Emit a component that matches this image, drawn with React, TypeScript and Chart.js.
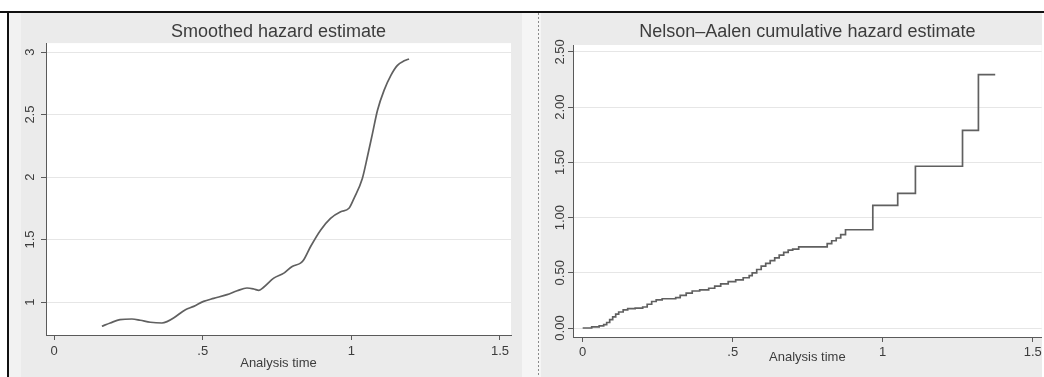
import React, { useEffect, useRef } from "react";
import { Chart, registerables } from "chart.js";

Chart.register(...registerables);

// ---- data ----
const xTicks = [0, 0.5, 1, 1.5];
const xTickLabels = ["0", ".5", "1", "1.5"];

const hazardTime = [0.161, 0.189, 0.222, 0.262, 0.29, 0.324, 0.363, 0.38, 0.402, 0.442, 0.47, 0.503, 0.537, 0.582, 0.616, 0.649, 0.672, 0.689, 0.706, 0.739, 0.773, 0.801, 0.829, 0.84, 0.863, 0.897, 0.93, 0.964, 0.992, 1.009, 1.037, 1.054, 1.071, 1.088, 1.11, 1.133, 1.155, 1.178, 1.194];
const hazardValue = [0.806, 0.832, 0.859, 0.864, 0.854, 0.838, 0.832, 0.843, 0.872, 0.939, 0.965, 1.005, 1.029, 1.059, 1.09, 1.112, 1.104, 1.093, 1.12, 1.191, 1.231, 1.285, 1.311, 1.338, 1.444, 1.577, 1.67, 1.723, 1.75, 1.83, 1.989, 2.162, 2.348, 2.535, 2.694, 2.814, 2.894, 2.93, 2.945];
const hazardYTicks = [1, 1.5, 2, 2.5, 3];
const hazardYTickLabels = ["1", "1.5", "2", "2.5", "3"];

const naTime = [0, 0.03, 0.055, 0.07, 0.08, 0.09, 0.1, 0.11, 0.12, 0.135, 0.15, 0.175, 0.2, 0.215, 0.23, 0.245, 0.265, 0.31, 0.325, 0.345, 0.365, 0.39, 0.42, 0.44, 0.46, 0.485, 0.51, 0.535, 0.555, 0.565, 0.58, 0.595, 0.61, 0.625, 0.64, 0.655, 0.67, 0.685, 0.7, 0.72, 0.815, 0.83, 0.845, 0.86, 0.876, 0.967, 1.05, 1.109, 1.266, 1.319, 1.375];
const naValue = [0, 0.01, 0.02, 0.03, 0.05, 0.075, 0.1, 0.125, 0.145, 0.165, 0.175, 0.18, 0.19, 0.215, 0.24, 0.255, 0.265, 0.275, 0.295, 0.315, 0.335, 0.345, 0.36, 0.38, 0.4, 0.42, 0.435, 0.455, 0.475, 0.5, 0.53, 0.56, 0.585, 0.61, 0.635, 0.66, 0.685, 0.705, 0.715, 0.735, 0.765, 0.79, 0.815, 0.845, 0.89, 1.11, 1.22, 1.465, 1.79, 2.295, 2.295];
const naYTicks = [0, 0.5, 1, 1.5, 2, 2.5];
const naYTickLabels = ["0.00", "0.50", "1.00", "1.50", "2.00", "2.50"];

const FONT = "'Liberation Sans', Arial, Helvetica, sans-serif";
const TEXT = "#3c3c3c";
const AXIS = "#5a5a5a";
const GRID = "#e6e6e6";
const LINE = "#606060";

const plotBg = {
  id: "plotBg",
  beforeDraw(chart: any) {
    const { ctx, chartArea: a } = chart;
    ctx.save();
    ctx.fillStyle = "#ffffff";
    ctx.fillRect(a.left, a.top, a.right - a.left, a.bottom - a.top);
    ctx.restore();
  },
};

type PanelOpts = {
  title: string;
  times: number[];
  values: number[];
  stepped: boolean;
  xMin: number;
  xMax: number;
  yMin: number;
  yMax: number;
  yTicks: number[];
  yLabels: string[];
  yWidth: number;
  xHeight: number;
  padRight: number;
  titlePadTop: number;
  titlePadBottom: number;
  yLabelPad: number;
  xLabelPad: number;
  xTitlePadBottom: number;
};

function makeChart(canvas: HTMLCanvasElement, o: PanelOpts) {
  const data = o.times.map((t, i) => ({ x: t, y: o.values[i] }));
  return new Chart(canvas, {
    type: "line",
    data: {
      datasets: [
        {
          data,
          borderColor: LINE,
          borderWidth: 1.7,
          pointRadius: 0,
          fill: false,
          stepped: o.stepped ? "before" : false,
          cubicInterpolationMode: o.stepped ? "default" : "monotone",
        } as any,
      ],
    },
    options: {
      responsive: false,
      animation: false,
      layout: { padding: { left: 0, top: 0, right: o.padRight, bottom: 0 } },
      plugins: {
        legend: { display: false },
        tooltip: { enabled: false },
        title: {
          display: true,
          text: o.title,
          color: TEXT,
          fullSize: false,
          font: { family: FONT, size: 18, weight: "normal" },
          padding: { top: o.titlePadTop, bottom: o.titlePadBottom },
        },
      },
      scales: {
        x: {
          type: "linear",
          min: o.xMin,
          max: o.xMax,
          afterBuildTicks: (s: any) => {
            s.ticks = xTicks.map((v) => ({ value: v }));
          },
          afterFit: (s: any) => {
            s.height = o.xHeight;
          },
          ticks: {
            color: TEXT,
            font: { family: FONT, size: 13 },
            padding: o.xLabelPad,
            maxRotation: 0,
            minRotation: 0,
            autoSkip: false,
            callback: (_v: any, i: number) => xTickLabels[i],
          },
          grid: {
            display: true,
            drawOnChartArea: false,
            drawTicks: true,
            tickLength: 5,
            tickColor: AXIS,
          },
          border: { display: true, color: AXIS, width: 1 },
          title: {
            display: true,
            text: "Analysis time",
            color: TEXT,
            font: { family: FONT, size: 13 },
            padding: { top: 0, bottom: o.xTitlePadBottom },
          },
        },
        y: {
          type: "linear",
          min: o.yMin,
          max: o.yMax,
          afterBuildTicks: (s: any) => {
            s.ticks = o.yTicks.map((v) => ({ value: v }));
          },
          afterFit: (s: any) => {
            s.width = o.yWidth;
          },
          ticks: {
            color: TEXT,
            font: { family: FONT, size: 13 },
            padding: o.yLabelPad,
            minRotation: 90,
            maxRotation: 90,
            crossAlign: "center",
            autoSkip: false,
            callback: (_v: any, i: number) => o.yLabels[i],
          },
          grid: {
            display: true,
            drawOnChartArea: true,
            drawTicks: true,
            tickLength: 5,
            color: GRID,
            tickColor: AXIS,
            lineWidth: 1,
          },
          border: { display: true, color: AXIS, width: 1 },
        },
      },
    },
    plugins: [plotBg],
  } as any);
}

export default function App() {
  const leftRef = useRef<HTMLCanvasElement>(null);
  const rightRef = useRef<HTMLCanvasElement>(null);

  useEffect(() => {
    document.body.style.margin = "0";
    const c1 = makeChart(leftRef.current!, {
      title: "Smoothed hazard estimate",
      times: hazardTime,
      values: hazardValue,
      stepped: false,
      xMin: -0.027,
      xMax: 1.537,
      yMin: 0.736,
      yMax: 3.072,
      yTicks: hazardYTicks,
      yLabels: hazardYTickLabels,
      yWidth: 37,
      xHeight: 42,
      padRight: 11,
      titlePadTop: 8.5,
      titlePadBottom: 0,
      yLabelPad: 2,
      xLabelPad: 3.7,
      xTitlePadBottom: 6,
    });
    const c2 = makeChart(rightRef.current!, {
      title: "Nelson\u2013Aalen cumulative hazard estimate",
      times: naTime,
      values: naValue,
      stepped: true,
      xMin: -0.0323,
      xMax: 1.53,
      yMin: -0.0815,
      yMax: 2.563,
      yTicks: naYTicks,
      yLabels: naYTickLabels,
      yWidth: 32,
      xHeight: 40,
      padRight: 2,
      titlePadTop: 8.5,
      titlePadBottom: 1.9,
      yLabelPad: -4.6,
      xLabelPad: 2.2,
      xTitlePadBottom: 12,
    });
    return () => {
      c1.destroy();
      c2.destroy();
    };
  }, []);

  const abs = (l: number, t: number, w: number, h: number, extra: any = {}) => ({
    position: "absolute" as const,
    left: l,
    top: t,
    width: w,
    height: h,
    ...extra,
  });

  return (
    <div style={abs(0, 0, 1044, 377, { background: "#ffffff", overflow: "hidden" })}>
      <div style={abs(9, 13, 513, 364, { background: "#ebebeb" })} />
      <div style={abs(9, 13, 12, 364, { background: "#f2f2f2" })} />
      <div style={abs(522, 13, 19, 364, { background: "#f5f5f5" })} />
      <div style={abs(541, 13, 501, 364, { background: "#ebebeb" })} />
      <div
        style={abs(538, 13, 1, 364, {
          background: "repeating-linear-gradient(to bottom, #8a8a8a 0px, #8a8a8a 2px, transparent 2px, transparent 4px)",
        })}
      />
      <canvas ref={leftRef} width={513} height={364} style={abs(9, 13, 513, 364, { display: "block" })} />
      <canvas ref={rightRef} width={503} height={364} style={abs(541, 13, 503, 364, { display: "block" })} />
      <div style={abs(0, 11, 1044, 2, { background: "#111111" })} />
      <div style={abs(7, 11, 2, 366, { background: "#111111" })} />
    </div>
  );
}
